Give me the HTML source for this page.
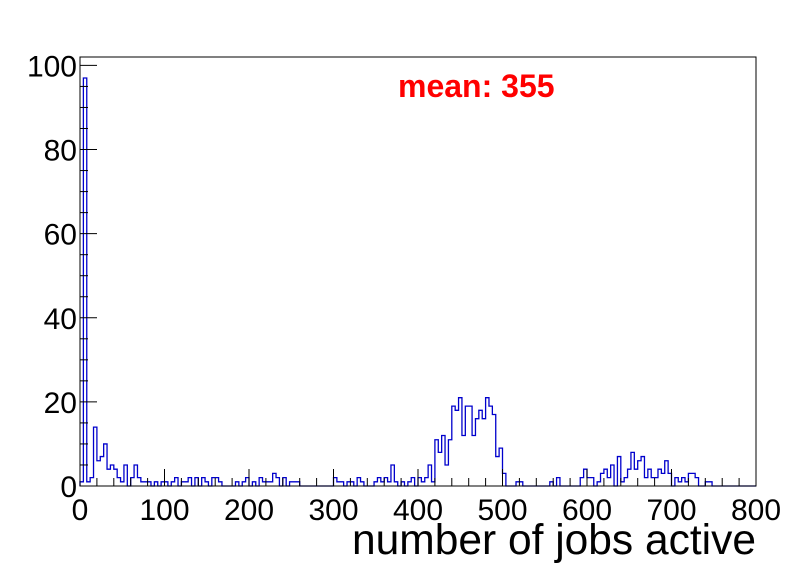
<!DOCTYPE html>
<html><head><meta charset="utf-8"><style>
html,body{margin:0;padding:0;background:#fff;}
svg{display:block;font-family:"Liberation Sans",sans-serif;}
</style></head><body>
<svg id="chart" width="796" height="572">
<rect x="0" y="0" width="796" height="572" fill="#fff"/>
<g id="plot"></g>
</svg>
<script>
const binWidth = 4;
const counts = [1,97,1,2,14,6,7,10,4,5, 4,2,1,5,0,2,5,2,1,1, 1,0,1,0,1,1,0,1,2,0, 1,1,2,0,2,0,2,1,0,2, 2,1,0,0,0,0,1,0,1,2, 0,1,0,2,1,1,1,3,2,0, 2,0,1,1,1,0,0,0,0,0, 0,0,0,0,0,2,1,1,0,1, 1,0,2,1,0,0,0,1,2,1, 2,1,5,1,0,1,0,1,2,0, 2,1,2,5,1,11,8,12,5,11, 19,18,21,12,19,19,12,16,18,16, 21,19,17,7,9,3,0,0,0,1, 1,0,0,0,0,0,0,0,0,1, 0,2,0,0,0,0,0,0,2,4, 2,2,0,1,3,4,2,5,0,7, 1,2,4,8,4,6,7,2,4,2, 2,4,3,6,3,0,2,1,2,1, 3,3,2,0,0,1,1,0,0,0, 0,0,0,0,0,0,0,0,0,0];
const xTicks = [0,100,200,300,400,500,600,700,800];
const yTicks = [0,20,40,60,80,100];
const meanLabel = "mean: 355";

const L=80,R=756,T=57,B=486,xMax=800,yMax=102;
const sx=v=>L+(v/xMax)*(R-L);
const sy=v=>B-(v/yMax)*(B-T);
const NS="http://www.w3.org/2000/svg";
const g=document.getElementById('plot');
function mk(tag,attrs,parent){const e=document.createElementNS(NS,tag);for(const k in attrs)e.setAttribute(k,attrs[k]);(parent||g).appendChild(e);return e;}

let d="M"+sx(0)+","+sy(0);
counts.forEach((c,i)=>{d+=" L"+sx(i*binWidth)+","+sy(c)+" L"+sx((i+1)*binWidth)+","+sy(c);});
d+=" L"+sx(counts.length*binWidth)+","+sy(0);
const h=mk('path',{d:d,fill:'none',stroke:'#0000cc','stroke-width':1.3});



const fr=mk('rect',{x:L,y:T,width:R-L,height:B-T,fill:'none',stroke:'#000','stroke-width':1});



for(let v=0;v<=xMax;v+=20){const maj=v%100===0;const t=mk('line',{x1:sx(v),x2:sx(v),y1:B,y2:B-(maj?17:8),stroke:'#000','stroke-width':1});

}
xTicks.forEach(v=>{const t=mk('text',{x:sx(v),y:520,'font-size':30,'text-anchor':'middle',fill:'#000'});t.textContent=v;

});
for(let v=0;v<=yMax;v+=5){const maj=v%20===0;const t=mk('line',{x1:L,x2:L+(maj?17:8),y1:sy(v),y2:sy(v),stroke:'#000','stroke-width':1});

}
yTicks.forEach(v=>{const t=mk('text',{x:77,y:sy(v)+11,'font-size':30,'text-anchor':'end',fill:'#000'});t.textContent=v;

});

const xt=mk('text',{x:756,y:554,'font-size':42.5,'text-anchor':'end',fill:'#000'});xt.textContent="number of jobs active";


const mt=mk('text',{x:398,y:97,'font-size':32,'font-weight':'bold',fill:'#ff0000'});mt.textContent=meanLabel;


</script>
</body></html>
